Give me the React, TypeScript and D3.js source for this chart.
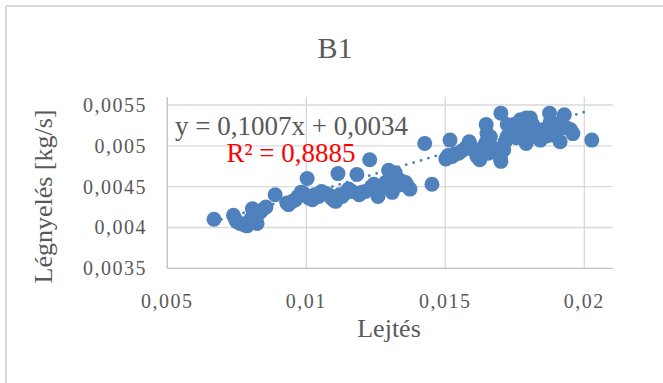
import React from "react";
import * as d3 from "d3";

const slopeX: number[] = [
  0.00668, 0.00738, 0.00745, 0.0075, 0.00762, 0.00771, 0.0078, 0.00786, 0.00795, 0.008, 0.00806, 0.00809, 0.00812,
  0.00817, 0.00823, 0.00832, 0.0084, 0.00855, 0.00888,
  0.0093, 0.00936, 0.0095, 0.00961, 0.0097, 0.00981, 0.0099, 0.01003, 0.0101, 0.01022, 0.0103, 0.01045, 0.01055,
  0.01068, 0.0108, 0.01091, 0.011, 0.01106, 0.01114, 0.0112, 0.01129, 0.0114, 0.01152, 0.01165, 0.01182, 0.0119,
  0.012, 0.01213, 0.01228, 0.01235, 0.01243, 0.0125, 0.01258, 0.0127, 0.01285, 0.01296, 0.01305, 0.01309, 0.0132,
  0.01327, 0.01335, 0.01342, 0.01357, 0.01365, 0.01373,
  0.01426, 0.01452, 0.01502, 0.0151, 0.01517, 0.01525, 0.01535, 0.01548, 0.0156, 0.01575, 0.01586, 0.0159, 0.01601,
  0.01614, 0.01624, 0.01632, 0.0164, 0.01647, 0.01648, 0.0165, 0.01655, 0.01662, 0.01674, 0.01685, 0.01698, 0.017,
  0.017, 0.0171, 0.01715, 0.01722, 0.01723, 0.01735, 0.01746, 0.01746, 0.01755, 0.01768, 0.0177, 0.0178, 0.01791,
  0.01791, 0.01794, 0.01806, 0.01814, 0.0182, 0.01829, 0.01842, 0.01852, 0.01854, 0.01865, 0.01875, 0.01878, 0.0189,
  0.01905, 0.01913, 0.01914, 0.01928, 0.01936, 0.0195, 0.01959, 0.02027,
];

const airFlow: number[] = [
  0.0041, 0.00415, 0.0041, 0.00407, 0.00405, 0.00404, 0.00403, 0.00402, 0.00406, 0.0041, 0.00423, 0.00407, 0.00418,
  0.00414, 0.00405, 0.00418, 0.00421, 0.00425, 0.0044,
  0.0043, 0.00428, 0.00432, 0.00434, 0.00438, 0.00443, 0.00442, 0.0046, 0.00436, 0.00434, 0.0044, 0.00438, 0.00444,
  0.00442, 0.0044, 0.00436, 0.00433, 0.00432, 0.00466, 0.0044, 0.00438, 0.00442, 0.00447, 0.00444, 0.00465, 0.0044,
  0.00443, 0.00444, 0.00483, 0.0045, 0.00453, 0.00446, 0.00438, 0.00448, 0.00455, 0.0047, 0.00462, 0.00443, 0.00467,
  0.0046, 0.00452, 0.00457, 0.00455, 0.0045, 0.00447,
  0.00503, 0.00453, 0.00484, 0.00488, 0.00507, 0.00487, 0.0049, 0.00491, 0.00494, 0.00498, 0.00505, 0.005, 0.00495,
  0.00487, 0.00483, 0.00489, 0.005, 0.00526, 0.00505, 0.00515, 0.00491, 0.00511, 0.00497, 0.00493, 0.00485, 0.0054,
  0.00481, 0.00495, 0.00505, 0.00511, 0.00526, 0.00515, 0.00518, 0.00526, 0.0051, 0.00528, 0.00532, 0.00518, 0.00534,
  0.00503, 0.00508, 0.00534, 0.00526, 0.00515, 0.00511, 0.00507, 0.00519, 0.0052, 0.00512, 0.0054, 0.0053, 0.00513,
  0.0052, 0.00505, 0.00528, 0.00538, 0.00522, 0.0052, 0.00515, 0.00507,
];

const xTicks: number[] = [0.005, 0.01, 0.015, 0.02];
const xTickLabels: string[] = ["0,005", "0,01", "0,015", "0,02"];
const yTicks: number[] = [0.0035, 0.004, 0.0045, 0.005, 0.0055];
const yTickLabels: string[] = ["0,0035", "0,004", "0,0045", "0,005", "0,0055"];
const trendSlope = 0.1007;
const trendIntercept = 0.0034;
const trendRange: number[] = [0.00668, 0.0202];

const W = 663;
const H = 383;
const left = 167.3;
const right = 612.7;
const plotTop = 97;
const bottom = 268.3;

export default function App() {
  const x = d3.scaleLinear().domain([0.005, 0.021]).range([left, left + (0.016 / 0.005) * 139]);
  const y = d3.scaleLinear().domain([0.0035, 0.0055]).range([bottom, 105]);
  const pts = slopeX.map((v, i) => [v, airFlow[i]] as [number, number]);
  const trend = d3
    .line<number>()
    .x((d) => x(d))
    .y((d) => y(trendSlope * d + trendIntercept))(trendRange);
  const serif = "'Liberation Serif', 'Times New Roman', serif";
  const grey = "#595959";
  const blue = "#4f81bd";
  return (
    <svg width={W} height={H} style={{ position: "absolute", left: 0, top: 0, background: "#fff" }}>
      <rect x={0} y={0} width={W} height={H} fill="#fff" />
      <line x1={6} y1={6} x2={W} y2={6} stroke="#d9d9d9" strokeWidth={2} />
      <line x1={6} y1={6} x2={6} y2={H} stroke="#d9d9d9" strokeWidth={2} />
      <text x={335} y={57.5} textAnchor="middle" fontFamily={serif} fontSize={30} fill={grey}>
        B1
      </text>
      {yTicks.slice(1).map((t) => (
        <line key={"h" + t} x1={left} x2={right} y1={y(t)} y2={y(t)} stroke="#d9d9d9" strokeWidth={1.3} />
      ))}
      {xTicks.slice(1).map((t) => (
        <line key={"v" + t} x1={x(t)} x2={x(t)} y1={plotTop} y2={bottom} stroke="#d9d9d9" strokeWidth={1.3} />
      ))}
      <line x1={left} x2={right} y1={bottom} y2={bottom} stroke="#bfbfbf" strokeWidth={1.3} />
      <line x1={left} x2={left} y1={plotTop} y2={bottom} stroke="#bfbfbf" strokeWidth={1.3} />
      {yTicks.map((t, i) => (
        <text key={"yl" + t} x={147} y={y(t) + 7} textAnchor="end" fontFamily={serif} fontSize={20} fill={grey}
          letterSpacing={1.5}>
          {yTickLabels[i]}
        </text>
      ))}
      {xTicks.map((t, i) => (
        <text key={"xl" + t} x={x(t)} y={308} textAnchor="middle" fontFamily={serif} fontSize={20} fill={grey}
          letterSpacing={1.5}>
          {xTickLabels[i]}
        </text>
      ))}
      <text x={389} y={337} textAnchor="middle" fontFamily={serif} fontSize={26} fill={grey}>
        Lejtés
      </text>
      <text transform="translate(52,196.5) rotate(-90)" textAnchor="middle" fontFamily={serif} fontSize={26} fill={grey}>
        Légnyelés [kg/s]
      </text>
      {pts.map((p, i) => (
        <circle key={i} cx={x(p[0])} cy={y(p[1])} r={7.5} fill={blue} />
      ))}
      <path d={trend || ""} fill="none" stroke={blue} strokeWidth={2.8} strokeLinecap="round" strokeDasharray="0.01 7.7" />
      <text x={175} y={135} fontFamily={serif} fontSize={27} fill={grey}>
        y = 0,1007x + 0,0034
      </text>
      <text x={226.5} y={161.5} fontFamily={serif} fontSize={27} fill="#ff0000">
        R² = 0,8885
      </text>
    </svg>
  );
}
